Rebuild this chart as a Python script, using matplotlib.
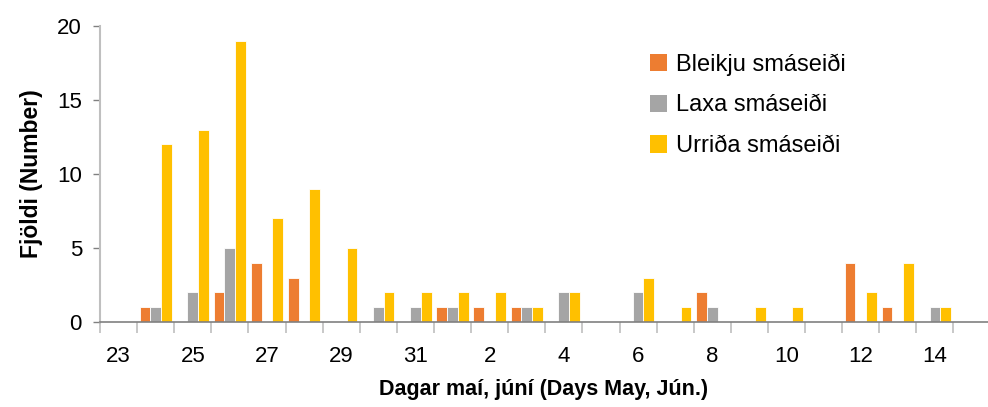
import matplotlib
matplotlib.use("Agg")
import matplotlib.pyplot as plt
import numpy as np
from matplotlib.patches import Patch

days = ["23", "24", "25", "26", "27", "28", "29", "30", "31",
        "1", "2", "3", "4", "5", "6", "7", "8", "9", "10", "11", "12", "13", "14"]
bleikju = [0, 1, 0, 2, 4, 3, 0, 0, 0, 1, 1, 1, 0, 0, 0, 0, 2, 0, 0, 0, 4, 1, 0]
laxa = [0, 1, 2, 5, 0, 0, 0, 1, 1, 1, 0, 1, 2, 0, 2, 0, 1, 0, 0, 0, 0, 0, 1]
urrida = [0, 12, 13, 19, 7, 9, 5, 2, 2, 2, 2, 1, 2, 0, 3, 1, 0, 1, 1, 0, 2, 4, 1]
series_names = ["Bleikju smáseiði", "Laxa smáseiði", "Urriða smáseiði"]
colors = ["#ED7D31", "#A5A5A5", "#FFC000"]

plt.rcParams["font.family"] = ["Liberation Sans", "DejaVu Sans"]

fig = plt.figure(figsize=(9.88, 4.07), dpi=100)
ax = fig.add_axes([100 / 988, 1 - 322 / 407, 888 / 988, (322 - 26) / 407])

x = np.arange(len(days))
w = 0.29
for k, (vals, col) in enumerate(zip([bleikju, laxa, urrida], colors)):
    ax.bar(x + (k - 1) * w, vals, width=w, color=col, edgecolor="white",
           linewidth=0.6, zorder=2)

ax.set_ylim(0, 20)
ax.set_xlim(-0.5, 23.43)
ax.set_yticks([0, 5, 10, 15, 20])
ax.set_yticklabels(["0", "5", "10", "15", "20"], fontsize=16)

ax.set_xticks(x[::2])
ax.set_xticklabels(days[::2], fontsize=16)
ax.tick_params(axis="x", which="major", length=0, pad=17)
ax.set_xticks(np.arange(-0.5, len(days), 1), minor=True)
ax.tick_params(axis="x", which="minor", length=8, color="#BFBFBF", width=1.2)
ax.tick_params(axis="y", length=5, color="#808080", width=1, pad=8)

for s in ["top", "right"]:
    ax.spines[s].set_visible(False)
ax.spines["bottom"].set_color("#808080")
ax.spines["bottom"].set_linewidth(1.2)
ax.spines["left"].set_color("#BFBFBF")
ax.spines["left"].set_linewidth(1.5)

ax.set_xlabel("Dagar maí, júní (Days May, Jún.)", fontsize=15.5, fontweight="bold",
              labelpad=9)
ax.set_ylabel("Fjöldi (Number)", fontsize=16.5, fontweight="bold", labelpad=10)

handles = [Patch(facecolor=c, edgecolor="none") for c in colors]
ax.legend(handles, series_names, loc="upper left", bbox_to_anchor=(0.595, 0.98),
          frameon=False, fontsize=17, handlelength=0.75, handleheight=0.75,
          handletextpad=0.35, labelspacing=0.8)

fig.savefig("out.png", dpi=100)
